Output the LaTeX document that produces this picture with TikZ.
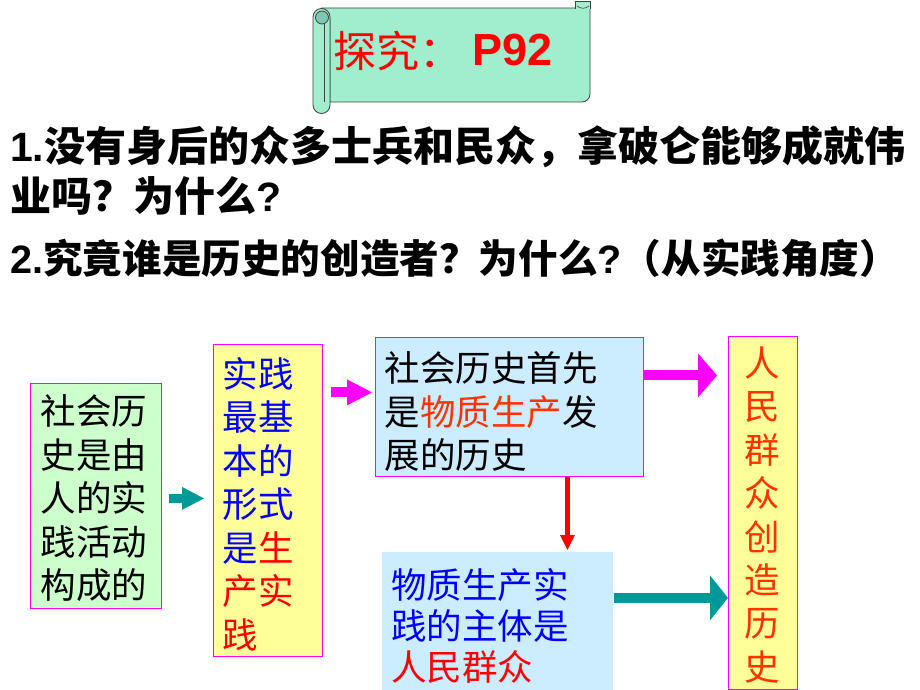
\documentclass[tikz,border=0pt]{standalone}
\usepackage{fontspec}
\usetikzlibrary{arrows.meta}
\newfontfamily\cjk{Noto Sans CJK SC}
\newfontfamily\arial{Liberation Sans}
\definecolor{mint}{RGB}{160,238,206}
\definecolor{mintdark}{RGB}{125,200,178}
\definecolor{lgreen}{RGB}{204,255,204}
\definecolor{lyellow}{RGB}{255,255,153}
\definecolor{lblue}{RGB}{204,236,255}
\definecolor{mag}{RGB}{255,0,255}
\definecolor{tealc}{RGB}{0,153,153}
\definecolor{ored}{RGB}{255,51,0}
\definecolor{pblue}{RGB}{0,0,255}
\definecolor{pred}{RGB}{255,0,0}
\begin{document}
\begin{tikzpicture}[x=1pt,y=-1pt,
  box/.style={draw=mag, line width=0.8pt, inner sep=0pt, anchor=north west},
  txt/.style={inner sep=0pt, align=left, font=\cjk\fontsize{35.5}{43.5}\selectfont},
  qline/.style={inner sep=0pt, anchor=west, font=\cjk\bfseries\fontsize{41}{41}\selectfont},
  scrolledge/.style={draw=black!75, line width=0.8pt, fill=mint}]
\useasboundingbox (0,0) rectangle (920,690);

% scroll
\filldraw[scrolledge] (322,8) -- (590,8) -- (590,94) to[out=-90,in=0] (582,102) -- (330,102) -- (330,18) -- cycle;
\filldraw[scrolledge] (575,9) -- (575,1) -- (590,1) -- (590,9);
\draw[black!75, line width=0.6pt] (577,6) to[bend right=40] (589,6);
\filldraw[scrolledge] (313,17) arc(180:360:8.5) -- (330,105) arc(0:180:8.5) -- cycle;
\filldraw[draw=black!75, line width=0.8pt, fill=mintdark] (322,17.5) circle (6.5);
\draw[black!75, line width=0.6pt] (324,24) -- (324,102);

\node[anchor=west, inner sep=0pt, text=pred, font=\cjk\fontsize{43}{43}\selectfont] (T1) at (333,51) {探究：};
\node[anchor=west, inner sep=0pt, text=pred, font=\arial\bfseries\fontsize{45}{45}\selectfont] (T2) at (472,50) {P92};

% questions
\node[qline] (Q1) at (10,147) {{\arial\bfseries 1.}没有身后的众多士兵和民众，拿破仑能够成就伟};
\node[qline] (Q2) at (10,196) {业吗？为什么{\arial\bfseries ?}};
\node[qline, font=\cjk\bfseries\fontsize{39.6}{39.6}\selectfont] (Q3) at (10,258) {{\arial\bfseries 2.}究竟谁是历史的创造者？为什么{\arial\bfseries ?}（从实践角度）};

% boxes
\node[box, fill=lgreen, minimum width=131pt, minimum height=225pt] (A) at (30,383) {};
\node[box, fill=lyellow, minimum width=109pt, minimum height=312pt] (B) at (213,344) {};
\node[box, fill=lblue, minimum width=268pt, minimum height=139pt] (C) at (375,337) {};
\node[box, draw=none, fill=lblue, minimum width=231pt, minimum height=140pt] (D) at (382,552) {};
\node[box, fill=lyellow, minimum width=69pt, minimum height=353pt] (E) at (728,336) {};

% texts
\node[txt] (At) at (94,498.5) {社会历\\史是由\\人的实\\践活动\\构成的};
\node[txt, text=pblue] (Bt) at (258,504) {实践\\最基\\本的\\形式\\是\textcolor{pred}{生}\\\textcolor{pred}{产实}\\\textcolor{pred}{践}};
\node[txt] (Ct) at (491,411.5) {社会历史首先\\是\textcolor{ored}{物质生产}发\\展的历史};
\node[txt, font=\cjk\fontsize{35.5}{41}\selectfont] (Dt) at (480,626) {\textcolor{pblue}{物质生产实}\\\textcolor{pblue}{践的主体是}\\\textcolor{pred}{人民群众}};
\node[txt, align=center, text=ored, font=\cjk\fontsize{35.5}{43.4}\selectfont] (Et) at (762,515) {人\\民\\群\\众\\创\\造\\历\\史};

% arrows
\draw[tealc, line width=9pt, -{Triangle[length=22pt,width=23pt,line width=0pt]}, shorten <=7pt, shorten >=9pt]
  ([yshift=-2.5pt]A.east) -- ([yshift=-2.5pt]A.east -| B.west);
\draw[mag, line width=10pt, -{Triangle[length=25pt,width=26pt,line width=0pt]}, shorten <=8pt, shorten >=3pt]
  ([yshift=14.5pt]C.west -| B.east) -- ([yshift=14.5pt]C.west);
\draw[mag, line width=10pt, -{Triangle[length=19pt,width=44pt,line width=0pt]}, shorten >=11pt]
  ([yshift=31.5pt]C.east) -- ([yshift=31.5pt]C.east -| E.west);
\draw[tealc, line width=9.5pt, -{Triangle[length=18pt,width=45pt,line width=0pt]}]
  ([yshift=24.5pt]D.east) -- ([yshift=24.5pt]D.east -| E.west);
\draw[pred, line width=5pt, -{Triangle[length=15pt,width=15pt,line width=0pt]}, shorten >=2pt]
  ([xshift=58pt]C.south) -- ([xshift=58pt]C.south |- D.north);
\end{tikzpicture}
\end{document}
